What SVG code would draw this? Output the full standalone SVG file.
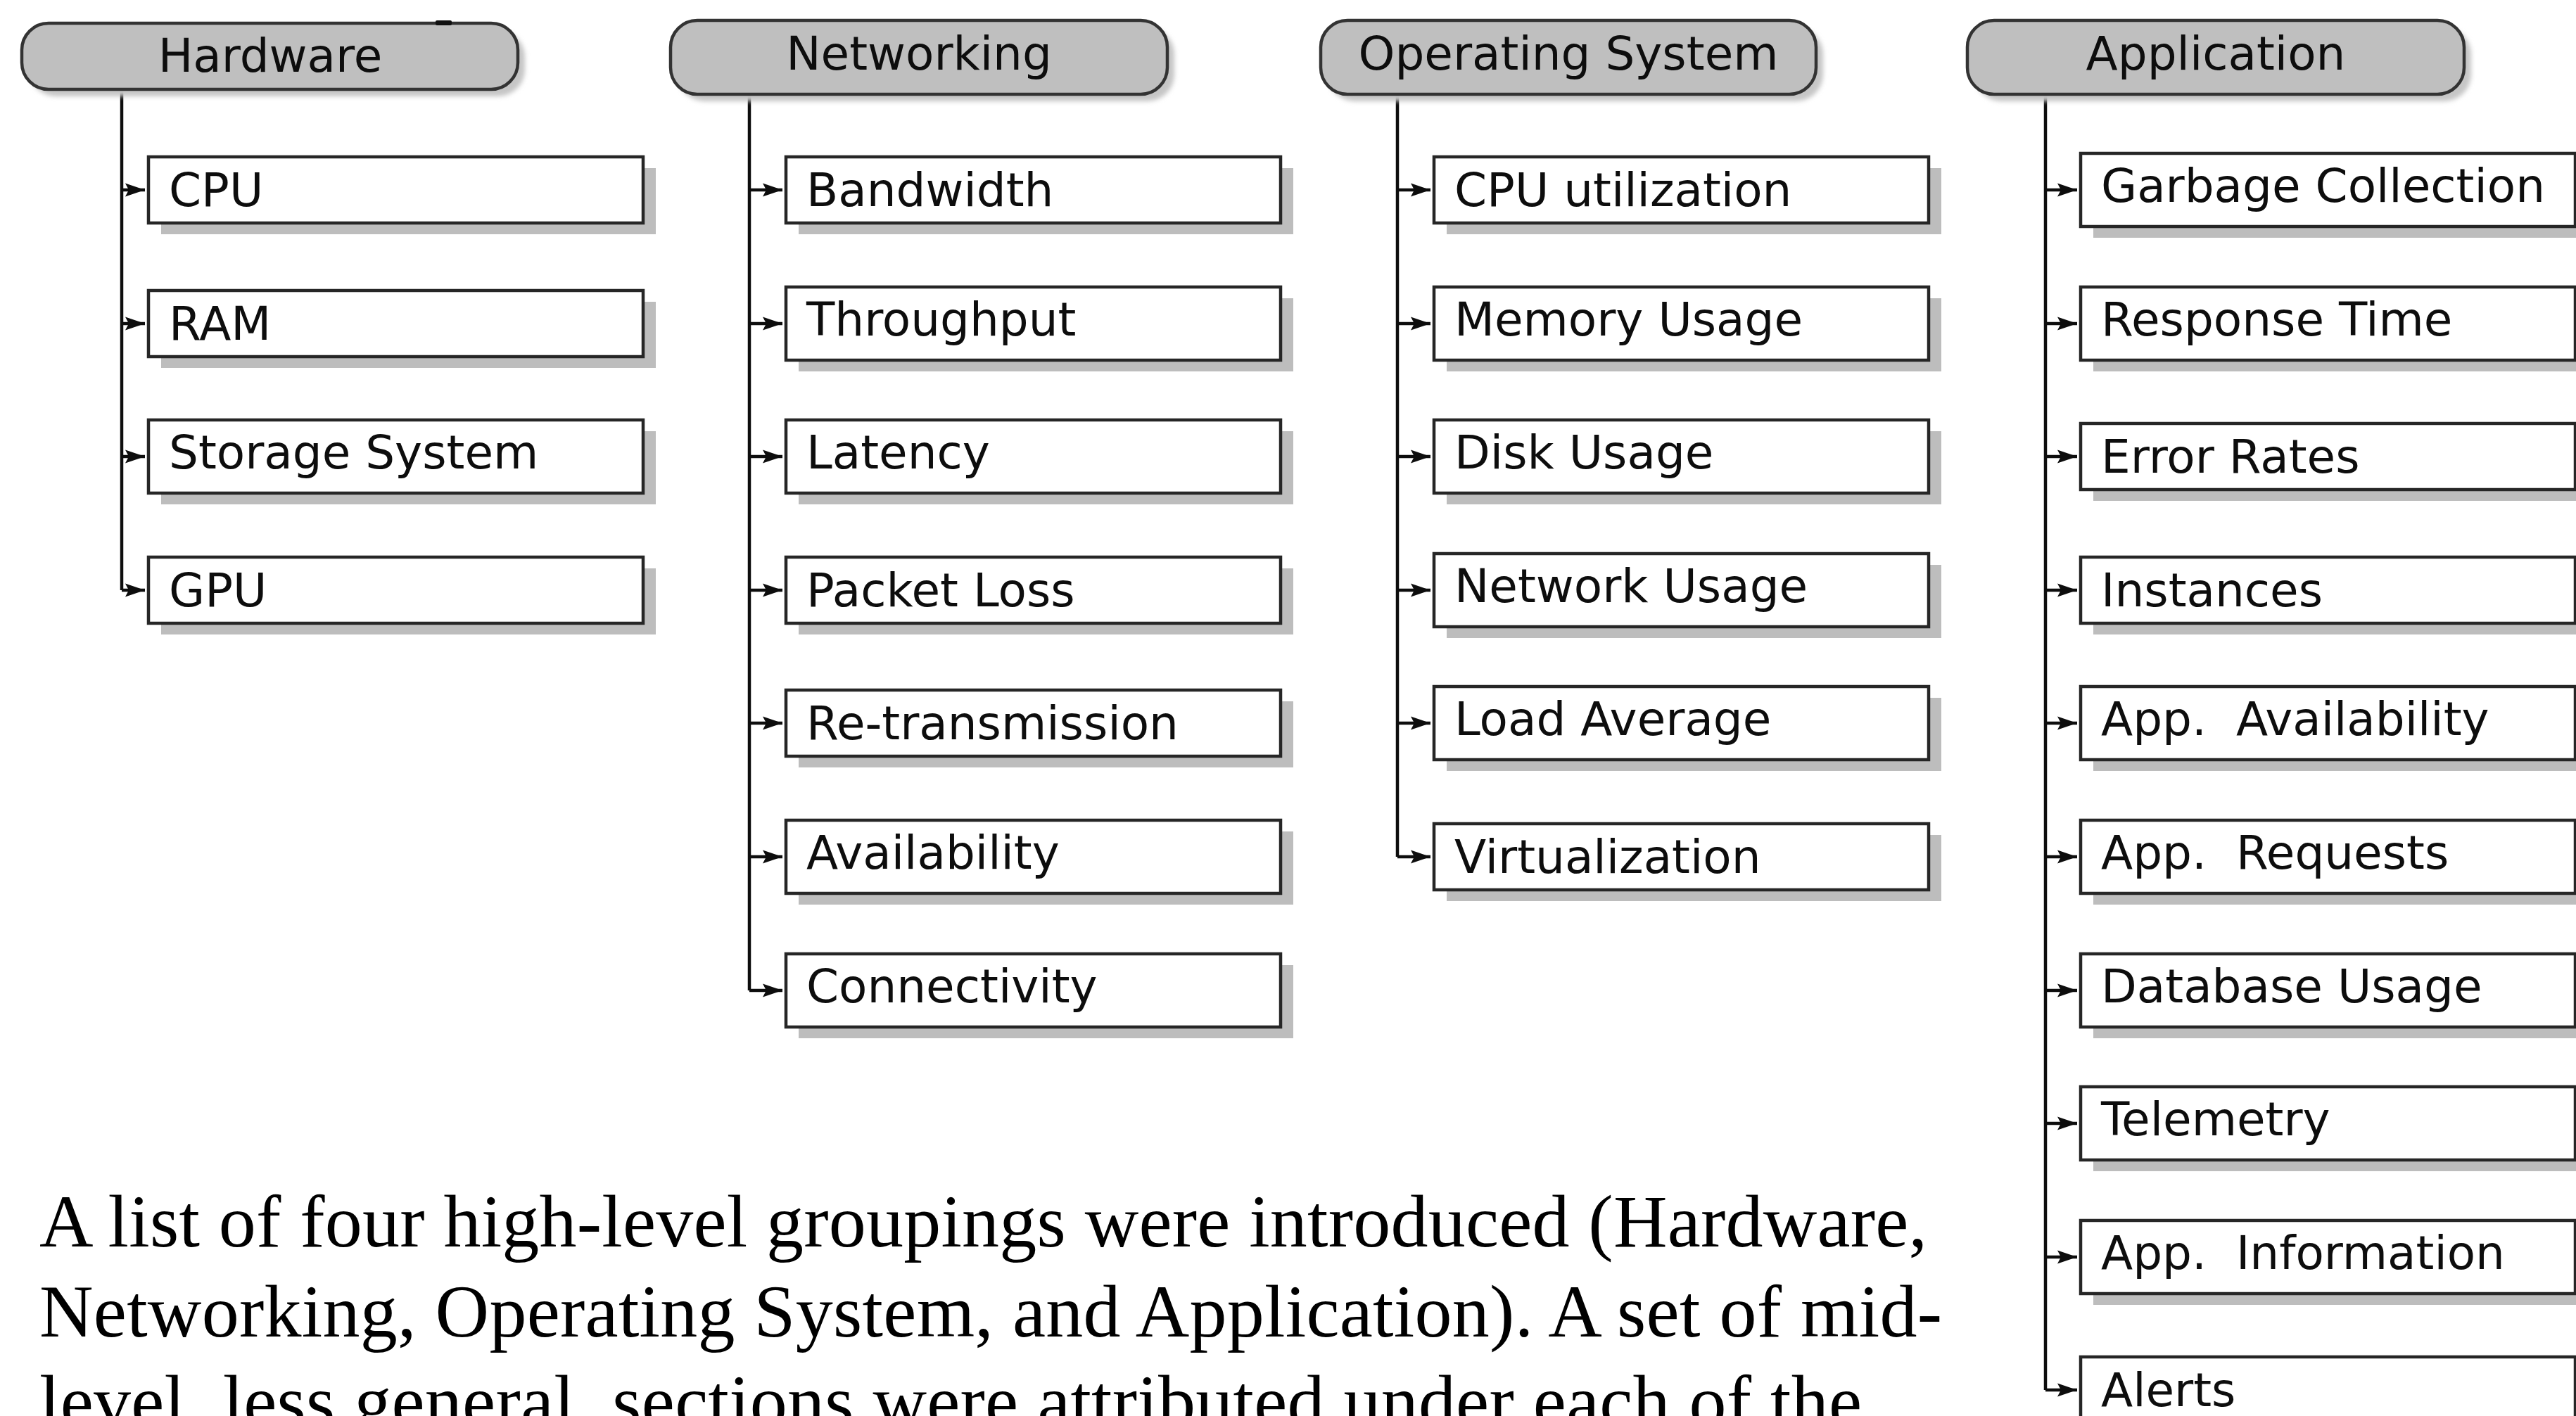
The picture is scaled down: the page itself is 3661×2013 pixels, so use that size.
<svg xmlns="http://www.w3.org/2000/svg" width="3661" height="2013" viewBox="0 0 3661 2013">
  <defs>
    <style>
      .pill{fill:#bfbfbf;stroke:#333;stroke-width:4.5}
      .pill-sh{fill:#c6c6c6;filter:url(#soft)}
      .box{fill:#fff;stroke:#262626;stroke-width:4.5}
      .box-sh{fill:#bdbdbd}
      .lbl{font-family:"DejaVu Sans","Liberation Sans",sans-serif;font-size:66px;fill:#0d0d0d;white-space:pre}
      .hdr{text-anchor:middle}
      .wire{fill:none;stroke:#0d0d0d;stroke-width:4.5}
      .branch{fill:none;stroke:#0d0d0d;stroke-width:4.5;marker-end:url(#tip)}
      .para{font-family:"Liberation Serif","Times New Roman",serif;font-size:106px;fill:#000}
    </style>
    <filter id="soft" x="-5%" y="-30%" width="110%" height="160%">
      <feGaussianBlur stdDeviation="3"/>
    </filter>
    <marker id="tip" markerUnits="userSpaceOnUse" markerWidth="32" markerHeight="24" refX="28" refY="12" orient="auto">
      <path d="M0 2.5 L28 12 L0 21.5 L5 12 Z" fill="#0d0d0d"/>
    </marker>
  </defs>

  <rect width="3661" height="2013" fill="#fff"/>

  <!-- connectors: trunk from each category down, one arrowed branch per item -->
  <g id="connectors">
    <path class="wire" d="M173 127 V839"/>
    <path class="branch" d="M173 270 H206"/>
    <path class="branch" d="M173 460 H206"/>
    <path class="branch" d="M173 649 H206"/>
    <path class="branch" d="M173 839 H206"/>

    <path class="wire" d="M1065 134 V1408"/>
    <path class="branch" d="M1065 270 H1112"/>
    <path class="branch" d="M1065 460 H1112"/>
    <path class="branch" d="M1065 649 H1112"/>
    <path class="branch" d="M1065 839 H1112"/>
    <path class="branch" d="M1065 1028 H1112"/>
    <path class="branch" d="M1065 1218 H1112"/>
    <path class="branch" d="M1065 1408 H1112"/>

    <path class="wire" d="M1986 134 V1218"/>
    <path class="branch" d="M1986 270 H2033"/>
    <path class="branch" d="M1986 460 H2033"/>
    <path class="branch" d="M1986 649 H2033"/>
    <path class="branch" d="M1986 839 H2033"/>
    <path class="branch" d="M1986 1028 H2033"/>
    <path class="branch" d="M1986 1218 H2033"/>

    <path class="wire" d="M2907 134 V1976"/>
    <path class="branch" d="M2907 270 H2952"/>
    <path class="branch" d="M2907 460 H2952"/>
    <path class="branch" d="M2907 649 H2952"/>
    <path class="branch" d="M2907 839 H2952"/>
    <path class="branch" d="M2907 1028 H2952"/>
    <path class="branch" d="M2907 1218 H2952"/>
    <path class="branch" d="M2907 1408 H2952"/>
    <path class="branch" d="M2907 1597 H2952"/>
    <path class="branch" d="M2907 1787 H2952"/>
    <path class="branch" d="M2907 1976 H2952"/>
  </g>

  <!-- category headers -->
  <g id="hardware">
    <rect class="pill-sh" x="41" y="43" width="705" height="94" rx="38"/>
    <rect class="pill" x="31" y="33" width="705" height="94" rx="38"/>
    <rect x="619" y="29" width="23" height="7" rx="2" fill="#111"/>
    <text class="lbl hdr" x="384" y="102">Hardware</text>
  </g>
  <g id="networking">
    <rect class="pill-sh" x="963" y="39" width="706" height="105" rx="38"/>
    <rect class="pill" x="953" y="29" width="706" height="105" rx="38"/>
    <text class="lbl hdr" x="1306" y="99">Networking</text>
  </g>
  <g id="operating-system">
    <rect class="pill-sh" x="1887" y="39" width="704" height="105" rx="38"/>
    <rect class="pill" x="1877" y="29" width="704" height="105" rx="38"/>
    <text class="lbl hdr" x="2229" y="99">Operating System</text>
  </g>
  <g id="application">
    <rect class="pill-sh" x="2806" y="39" width="706" height="105" rx="38"/>
    <rect class="pill" x="2796" y="29" width="706" height="105" rx="38"/>
    <text class="lbl hdr" x="3149" y="99">Application</text>
  </g>

  <!-- Hardware items -->
  <g id="hw-cpu"><rect class="box-sh" x="229" y="239" width="703" height="94"/><rect class="box" x="211" y="223" width="703" height="94"/><text class="lbl" x="240" y="293">CPU</text></g>
  <g id="hw-ram"><rect class="box-sh" x="229" y="429" width="703" height="94"/><rect class="box" x="211" y="413" width="703" height="94"/><text class="lbl" x="240" y="483">RAM</text></g>
  <g id="hw-storage"><rect class="box-sh" x="229" y="613" width="703" height="104"/><rect class="box" x="211" y="597" width="703" height="104"/><text class="lbl" x="240" y="666">Storage System</text></g>
  <g id="hw-gpu"><rect class="box-sh" x="229" y="808" width="703" height="94"/><rect class="box" x="211" y="792" width="703" height="94"/><text class="lbl" x="240" y="862">GPU</text></g>

  <!-- Networking items -->
  <g id="net-bandwidth"><rect class="box-sh" x="1135" y="239" width="703" height="94"/><rect class="box" x="1117" y="223" width="703" height="94"/><text class="lbl" x="1146" y="293">Bandwidth</text></g>
  <g id="net-throughput"><rect class="box-sh" x="1135" y="424" width="703" height="104"/><rect class="box" x="1117" y="408" width="703" height="104"/><text class="lbl" x="1146" y="477">Throughput</text></g>
  <g id="net-latency"><rect class="box-sh" x="1135" y="613" width="703" height="104"/><rect class="box" x="1117" y="597" width="703" height="104"/><text class="lbl" x="1146" y="666">Latency</text></g>
  <g id="net-packet-loss"><rect class="box-sh" x="1135" y="808" width="703" height="94"/><rect class="box" x="1117" y="792" width="703" height="94"/><text class="lbl" x="1146" y="862">Packet Loss</text></g>
  <g id="net-retransmission"><rect class="box-sh" x="1135" y="997" width="703" height="94"/><rect class="box" x="1117" y="981" width="703" height="94"/><text class="lbl" x="1146" y="1051">Re-transmission</text></g>
  <g id="net-availability"><rect class="box-sh" x="1135" y="1182" width="703" height="104"/><rect class="box" x="1117" y="1166" width="703" height="104"/><text class="lbl" x="1146" y="1235">Availability</text></g>
  <g id="net-connectivity"><rect class="box-sh" x="1135" y="1372" width="703" height="104"/><rect class="box" x="1117" y="1356" width="703" height="104"/><text class="lbl" x="1146" y="1425">Connectivity</text></g>

  <!-- Operating System items -->
  <g id="os-cpu-utilization"><rect class="box-sh" x="2056" y="239" width="703" height="94"/><rect class="box" x="2038" y="223" width="703" height="94"/><text class="lbl" x="2067" y="293">CPU utilization</text></g>
  <g id="os-memory-usage"><rect class="box-sh" x="2056" y="424" width="703" height="104"/><rect class="box" x="2038" y="408" width="703" height="104"/><text class="lbl" x="2067" y="477">Memory Usage</text></g>
  <g id="os-disk-usage"><rect class="box-sh" x="2056" y="613" width="703" height="104"/><rect class="box" x="2038" y="597" width="703" height="104"/><text class="lbl" x="2067" y="666">Disk Usage</text></g>
  <g id="os-network-usage"><rect class="box-sh" x="2056" y="803" width="703" height="104"/><rect class="box" x="2038" y="787" width="703" height="104"/><text class="lbl" x="2067" y="856">Network Usage</text></g>
  <g id="os-load-average"><rect class="box-sh" x="2056" y="992" width="703" height="104"/><rect class="box" x="2038" y="976" width="703" height="104"/><text class="lbl" x="2067" y="1045">Load Average</text></g>
  <g id="os-virtualization"><rect class="box-sh" x="2056" y="1187" width="703" height="94"/><rect class="box" x="2038" y="1171" width="703" height="94"/><text class="lbl" x="2067" y="1241">Virtualization</text></g>

  <!-- Application items -->
  <g id="app-garbage-collection"><rect class="box-sh" x="2975" y="234" width="703" height="104"/><rect class="box" x="2957" y="218" width="703" height="104"/><text class="lbl" x="2986" y="287">Garbage Collection</text></g>
  <g id="app-response-time"><rect class="box-sh" x="2975" y="424" width="703" height="104"/><rect class="box" x="2957" y="408" width="703" height="104"/><text class="lbl" x="2986" y="477">Response Time</text></g>
  <g id="app-error-rates"><rect class="box-sh" x="2975" y="618" width="703" height="94"/><rect class="box" x="2957" y="602" width="703" height="94"/><text class="lbl" x="2986" y="672">Error Rates</text></g>
  <g id="app-instances"><rect class="box-sh" x="2975" y="808" width="703" height="94"/><rect class="box" x="2957" y="792" width="703" height="94"/><text class="lbl" x="2986" y="862">Instances</text></g>
  <g id="app-availability"><rect class="box-sh" x="2975" y="992" width="703" height="104"/><rect class="box" x="2957" y="976" width="703" height="104"/><text class="lbl" x="2986" y="1045">App.  Availability</text></g>
  <g id="app-requests"><rect class="box-sh" x="2975" y="1182" width="703" height="104"/><rect class="box" x="2957" y="1166" width="703" height="104"/><text class="lbl" x="2986" y="1235">App.  Requests</text></g>
  <g id="app-database-usage"><rect class="box-sh" x="2975" y="1372" width="703" height="104"/><rect class="box" x="2957" y="1356" width="703" height="104"/><text class="lbl" x="2986" y="1425">Database Usage</text></g>
  <g id="app-telemetry"><rect class="box-sh" x="2975" y="1561" width="703" height="104"/><rect class="box" x="2957" y="1545" width="703" height="104"/><text class="lbl" x="2986" y="1614">Telemetry</text></g>
  <g id="app-information"><rect class="box-sh" x="2975" y="1751" width="703" height="104"/><rect class="box" x="2957" y="1735" width="703" height="104"/><text class="lbl" x="2986" y="1804">App.  Information</text></g>
  <g id="app-alerts"><rect class="box-sh" x="2975" y="1945" width="703" height="94"/><rect class="box" x="2957" y="1929" width="703" height="94"/><text class="lbl" x="2986" y="1999">Alerts</text></g>

  <!-- body text below the chart -->
  <g id="caption">
    <text class="para" x="56" y="1772" textLength="2683" lengthAdjust="spacing">A list of four high-level groupings were introduced (Hardware,</text>
    <text class="para" x="56" y="1900" textLength="2704" lengthAdjust="spacing">Networking, Operating System, and Application). A set of mid-</text>
    <text class="para" x="56" y="2028" textLength="2590" lengthAdjust="spacing">level, less general, sections were attributed under each of the</text>
  </g>
</svg>
